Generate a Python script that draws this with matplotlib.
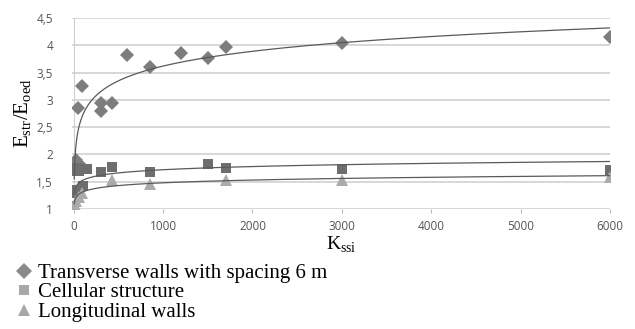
import numpy as np
import matplotlib
matplotlib.use("Agg")
from matplotlib import pyplot as plt
from matplotlib.ticker import FuncFormatter

# data
trans_x = [5, 10, 20, 30, 50, 70, 100, 45, 90, 300, 300, 430, 600, 850, 1200, 1500, 1700, 3000, 6000]
trans_y = [1.75, 1.8, 1.85, 1.9, 1.8, 1.8, 1.75, 2.85, 3.25, 2.8, 2.95, 2.95, 3.82, 3.6, 3.86, 3.77, 3.97, 4.05, 4.15]

cell_x = [5, 10, 15, 25, 40, 60, 100, 150, 300, 430, 850, 1500, 1700, 3000, 6000]
cell_y = [1.05, 1.3, 1.35, 1.7, 1.75, 1.7, 1.42, 1.73, 1.67, 1.77, 1.68, 1.82, 1.75, 1.73, 1.72]

long_x = [5, 15, 30, 60, 90, 430, 850, 1700, 3000, 6000]
long_y = [1.03, 1.08, 1.15, 1.22, 1.3, 1.53, 1.45, 1.53, 1.53, 1.58]

# logarithmic trend lines y = a*ln(x) + b
trend_trans = (0.39, 0.926)
trend_cell = (0.084, 1.14)
trend_long = (0.073, 0.976)

labels = ["Transverse walls with spacing 6 m", "Cellular structure", "Longitudinal walls"]
yticks = [1, 1.5, 2, 2.5, 3, 3.5, 4, 4.5]
xticks = [0, 1000, 2000, 3000, 4000, 5000, 6000]

fig = plt.figure(figsize=(6.35, 3.29), dpi=100)
ax = fig.add_axes([0.1134, 0.3647, 0.847, 0.5805])

series = [
    (trans_x, trans_y, trend_trans, "D", "#7d7d7d", 7),
    (cell_x, cell_y, trend_cell, "s", "#6e6e6e", 7.5),
    (long_x, long_y, trend_long, "^", "#ababab", 8),
]
for (x, y, (a, b), m, c, ms), lab in zip(series, labels):
    ax.plot(x, y, linestyle="none", marker=m, color=c, markersize=ms,
            markeredgewidth=0, label=lab, zorder=3)
    xt = np.geomspace(min(x), 6000, 400)
    ax.plot(xt, a * np.log(xt) + b, color="#5a5a5a", lw=0.9, zorder=4)

ax.set_xlim(-20, 6000)
ax.set_ylim(1, 4.5)
ax.set_yticks(yticks)
ax.set_xticks(xticks)
ax.yaxis.set_major_formatter(FuncFormatter(lambda v, p: ("%g" % v).replace(".", ",")))
ax.grid(axis="y", color="#d4d4d4", lw=1.3)
ax.set_axisbelow(True)
for s in ["top", "right"]:
    ax.spines[s].set_visible(False)
ax.spines["bottom"].set_visible(False)
ax.spines["left"].set_color("#cfcfcf")
ax.spines["left"].set_position(("data", 0))
ax.tick_params(axis="y", length=0, labelsize=8.5, labelcolor="#555555", pad=15)
ax.tick_params(axis="x", length=3, color="#bbbbbb", labelsize=8.5, labelcolor="#555555", pad=5)
for t in ax.get_xticklabels() + ax.get_yticklabels():
    t.set_fontfamily("Open Sans")

ax.set_xlabel(r"K$_{\mathregular{ssi}}$", family="Liberation Serif", fontsize=14, labelpad=1)
ax.set_ylabel(r"E$_{\mathregular{str}}$/E$_{\mathregular{oed}}$", family="Liberation Serif", fontsize=15, labelpad=2)

leg_handles = [
    plt.Line2D([], [], linestyle="none", marker="D", color="#8a8a8a", markersize=8, markeredgewidth=0),
    plt.Line2D([], [], linestyle="none", marker="s", color="#a8a8a8", markersize=7, markeredgewidth=0),
    plt.Line2D([], [], linestyle="none", marker="^", color="#a8a8a8", markersize=8, markeredgewidth=0),
]
fig.legend(leg_handles, labels, loc="upper left", bbox_to_anchor=(0.008, 0.225), frameon=False,
           prop={"family": "Liberation Serif", "size": 15}, handlelength=1.0,
           handletextpad=0.2, labelspacing=0.0, borderaxespad=0)

fig.savefig("out.png", dpi=100)
